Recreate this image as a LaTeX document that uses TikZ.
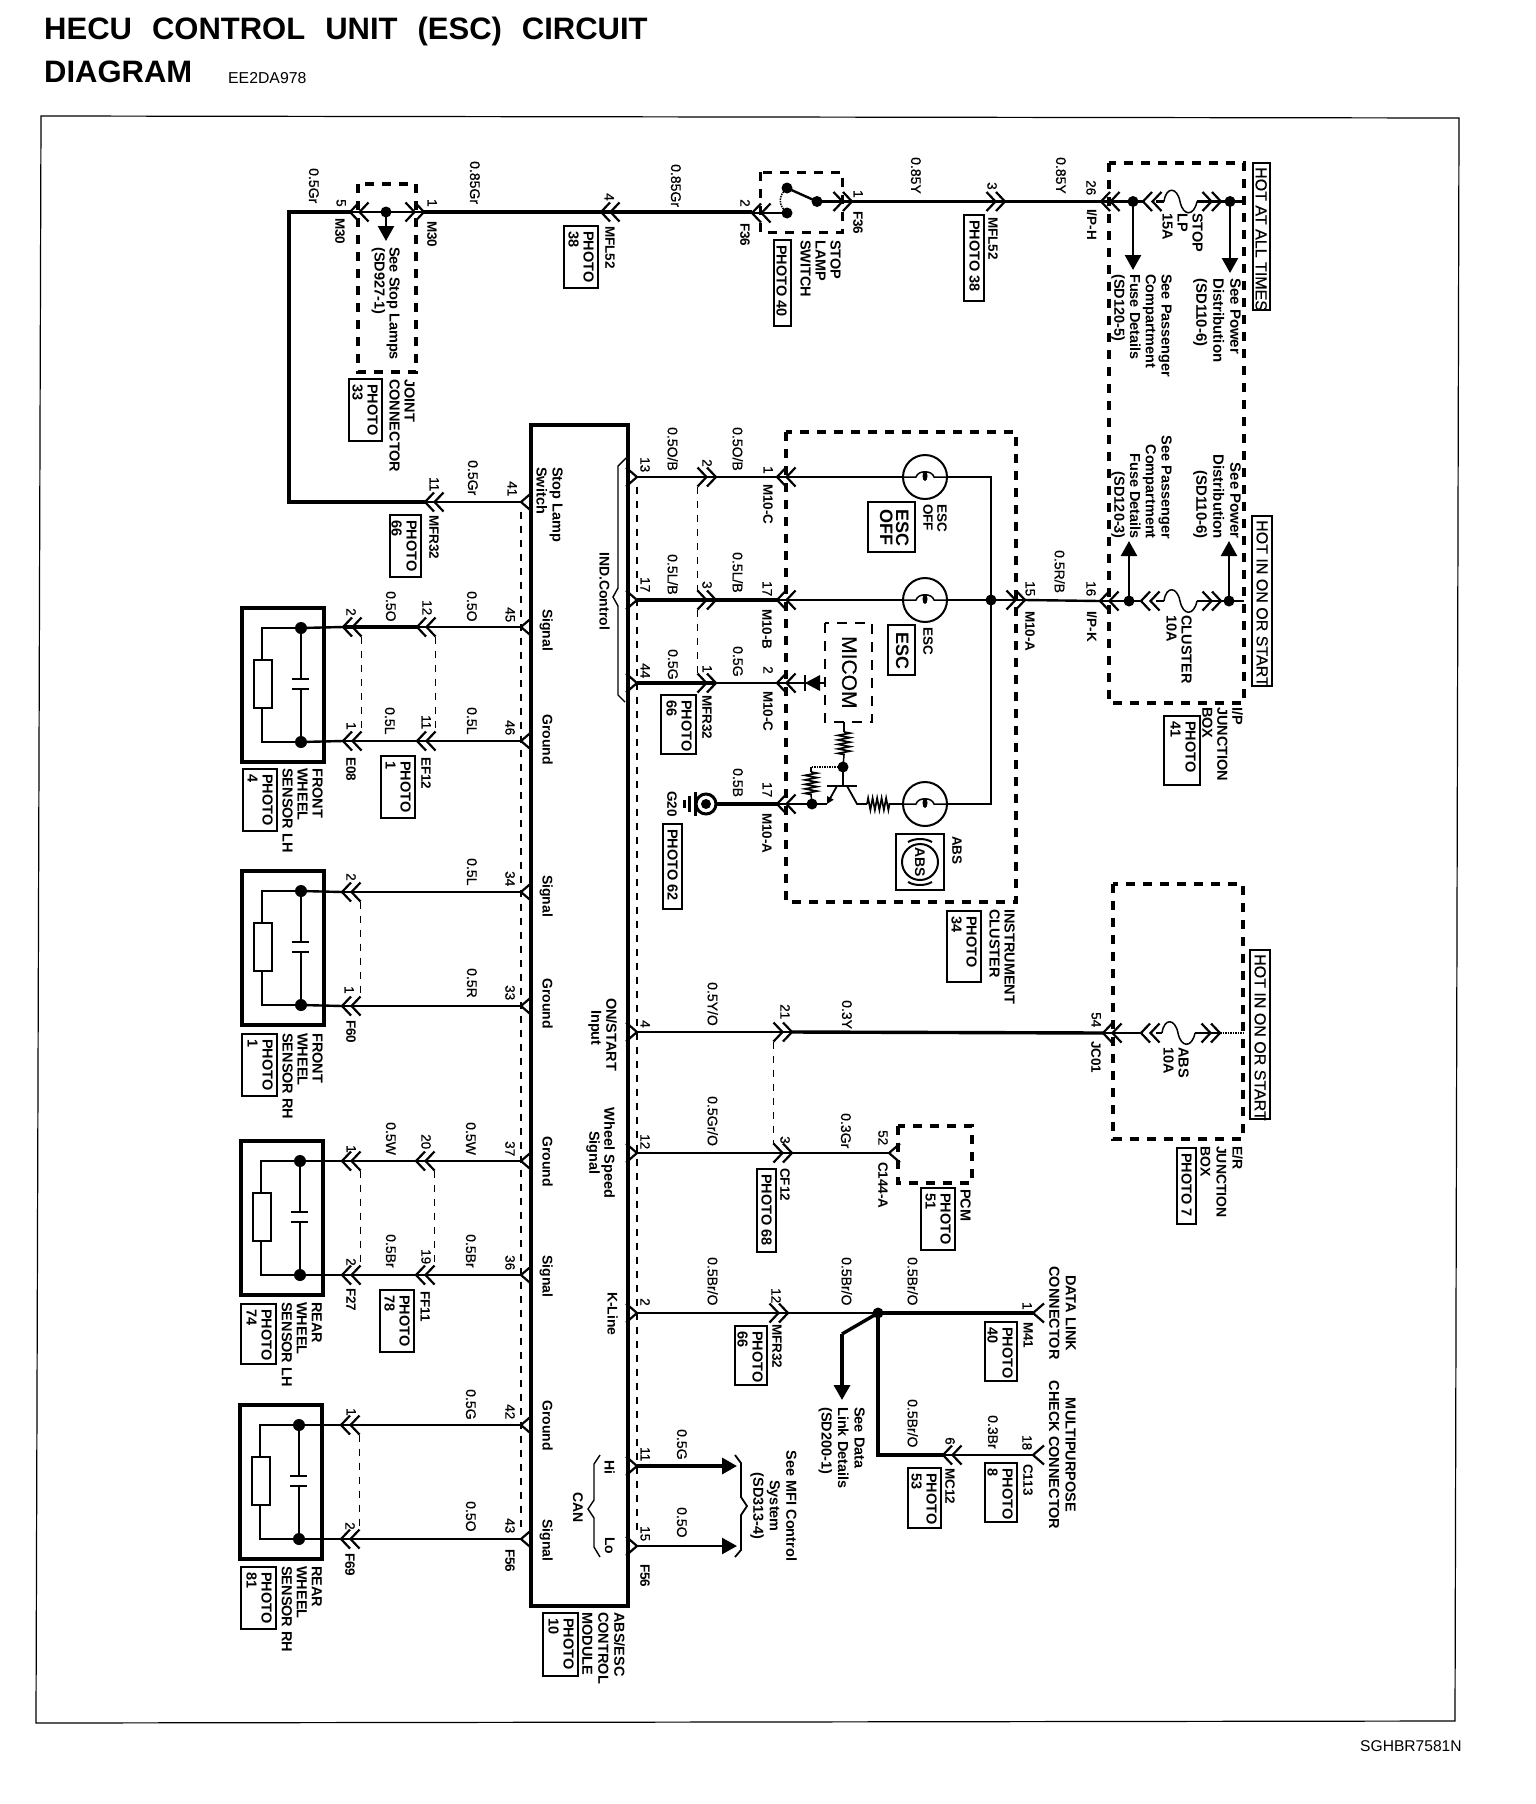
\documentclass[tikz,border=0pt]{standalone}
\usepackage{fontspec}
\setmainfont{Liberation Sans}
\newfontfamily\scanfont[FakeBold=0.5]{Liberation Sans}
\usetikzlibrary{arrows.meta,decorations.pathmorphing}
\newcount\labn
\tikzset{
  lab/.style={rotate=-90,inner sep=0pt,anchor=north west,align=left},
  labr/.style={rotate=-90,inner sep=0pt,anchor=north east,align=right},
  labc/.style={rotate=-90,inner sep=0pt,anchor=north,align=center},
  wl/.style={font=\fontsize{14}{16}\selectfont\scanfont},
  pn/.style={font=\fontsize{13.5}{15}\selectfont\scanfont},
  cn/.style={font=\fontsize{13.5}{15}\selectfont\bfseries},
  bl/.style={font=\fontsize{14.5}{15}\selectfont\bfseries},
  sl/.style={font=\fontsize{14}{16}\selectfont\bfseries},
  nt/.style={font=\fontsize{14.5}{16}\selectfont\bfseries},
  big/.style={font=\fontsize{18}{16}\selectfont\bfseries},
  hot/.style={font=\fontsize{16}{18}\selectfont\scanfont},
  wire/.style={line width=2.4pt},
  thin wire/.style={line width=1.5pt},
  thick wire/.style={line width=3.4pt},
  heavy wire/.style={line width=4.2pt},
  chevline/.style={line width=2.2pt,line join=miter},
  dlink/.style={line width=1.5pt,dash pattern=on 7pt off 7pt},
  hlink/.style={line width=1.9pt,dash pattern=on 7pt off 7pt},
  dbox/.style={line width=3.4pt,dash pattern=on 9pt off 8pt},
  pbox/.style={line width=1.7pt},
  modbox/.style={line width=3.8pt},
  frame/.style={line width=1.2pt},
  tip/.style={-{Triangle[length=15pt,width=16pt]}},
  brace/.style={line width=1.4pt},
  res/.style={line width=1.7pt,decorate,decoration={zigzag,segment length=4.5pt,amplitude=6pt}},
}
\newcommand\lb[4][wl]{\global\advance\labn by 1\relax\node[lab,#1] (t\the\labn) at (#2,#3) {#4};}
\newcommand\lr[4][nt]{\global\advance\labn by 1\relax\node[labr,#1] (t\the\labn) at (#2,#3) {#4};}
\newcommand\lc[4][nt]{\global\advance\labn by 1\relax\node[labc,#1] (t\the\labn) at (#2,#3) {#4};}
\newcommand\sch[4]{\coordinate (#1) at (#2,#3);\draw[chevline] (#1) ++(#4*11,-9.5) -- (#1) -- ++(#4*11,9.5);}
\newcommand\dc[4]{\coordinate (#1) at (#2,#3);\draw[chevline] (#1) ++(#4*9,-9.5) -- (#1) -- ++(#4*9,9.5);\draw[chevline] (#1) ++(#4*18.5,-9.5) -- ++(#4*-9,9.5) -- ++(#4*9,9.5);}
\newcommand\dl[3]{\draw[dlink] ([xshift=#3*18.5pt,yshift=-9.5pt]#1) -- ([xshift=#3*18.5pt,yshift=9.5pt]#2);}
\newcommand\jdot[3]{\coordinate (#1) at (#2,#3);\fill (#1) circle[radius=5.5];}
\newcommand\photo[5]{\draw[pbox] (#1,#2) rectangle (#3,#4);\lb[bl]{#3-4}{#2+5}{#5}}
\newcommand\fuse[3]{\draw[thin wire,shift={(#1,#2)}] (0,0) .. controls (2,-15) and (13,-15) .. (16,0) .. controls (19,15) and (30,15) .. (#3,0);}
\newcommand\sensor[3]{\begin{scope}[shift={(#2,#3)}]
  \draw[line width=3.8pt] (0,0) rectangle (82,154);
  \coordinate (#1t) at (59,20);\coordinate (#1b) at (59,134);
  \draw[line width=1.9pt] (#1t) -- (20,20) -- (20,52);
  \draw[line width=1.9pt] (12,52) rectangle (30,100);
  \draw[line width=1.9pt] (20,100) -- (20,134) -- (#1b);
  \draw[line width=1.9pt] (#1t) -- (59,71) (50,71) -- (67,71) (50,81) -- (67,81) (59,81) -- (#1b);
  \fill (#1t) circle[radius=6];\fill (#1b) circle[radius=6];
\end{scope}}
\newcommand\lamp[3]{\coordinate (#1l) at (#2-22,#3);\coordinate (#1r) at (#2+22,#3);
  \draw[line width=2pt] (#2,#3) circle[radius=22];
  \draw[line width=1.5pt] (#1l) -- (#2-9,#3) .. controls (#2-7,#3-7) and (#2+7,#3-7) .. (#2+9,#3) -- (#1r);
  \fill (#2,#3-1) ellipse[x radius=2.5,y radius=5];}
\begin{document}
\begin{tikzpicture}[x=1pt,y=-1pt]
\useasboundingbox (0,0) rectangle (1536,1804);
\fill[white] (0,0) rectangle (1536,1804);
% title
\node[anchor=base west,inner sep=0pt,font=\fontsize{31}{34}\selectfont\bfseries] (title1) at (44,39) {HECU\hspace{20pt}CONTROL\hspace{20pt}UNIT\hspace{20pt}(ESC)\hspace{20pt}CIRCUIT};
\node[anchor=base west,inner sep=0pt,font=\fontsize{31}{34}\selectfont\bfseries] (title2) at (44,82) {DIAGRAM};
\node[anchor=base west,inner sep=0pt,font=\fontsize{15.8}{18}\selectfont] (code) at (228,83) {EE2DA978};
\node[anchor=base west,inner sep=0pt,font=\fontsize{15.6}{18}\selectfont] (foot) at (1360,1751) {SGHBR7581N};
% frame
\coordinate (fa) at (41,116);\coordinate (fb) at (1459,118);\coordinate (fc) at (1455,1721);\coordinate (fd) at (36,1723);
\draw[frame] (fa) -- (fb) -- (fc) -- (fd) -- cycle;
% module
\draw[modbox] (531,425) rectangle (628,1606);
% pins on module
\sch{p41}{521}{502}{1}\sch{p45}{521}{627}{1}\sch{p46}{521}{741}{1}\sch{p34}{521}{892}{1}\sch{p33}{521}{1006}{1}
\sch{p37}{521}{1161}{1}\sch{p36}{521}{1275}{1}\sch{p42}{521}{1425}{1}\sch{p43}{521}{1539}{1}
\sch{p13}{637}{477}{-1}\sch{p17}{637}{600}{-1}\sch{p44}{637}{683}{-1}\sch{p4}{637}{1032}{-1}\sch{p12}{637}{1153}{-1}
\sch{p2}{637}{1313}{-1}\sch{p11}{637}{1466}{-1}\sch{p15}{637}{1546}{-1}
\draw[hlink] ([yshift=-9.5pt]p41) -- ([yshift=9.5pt]p43);
\draw[hlink] ([yshift=-9.5pt]p13) -- ([yshift=9.5pt]p15);
% top row
\dc{m30a}{350}{212}{1}\dc{m30b}{424}{212}{-1}\dc{mfla}{601}{212}{1}\dc{f36a}{752}{213}{1}\dc{f36b}{852}{201.5}{-1}
\dc{mflb}{1005}{201.5}{-1}\dc{iph}{1101}{201.5}{1}\dc{ipha}{1143}{201.5}{1}\dc{iphb}{1221}{201.5}{-1}
\dc{mfr11}{425}{502}{1}
\coordinate (bendT) at (289,212);\coordinate (bendB) at (289,502);
\draw[heavy wire,line join=miter] (m30a) -- (bendT) -- (bendB) -- (mfr11);
\draw[wire] (mfr11) -- (p41);
\jdot{jc}{386}{212}
\coordinate (jcend) at (386,241);
\draw[thin wire] (m30a) -- (m30b);
\draw[wire,tip] (jc) -- (jcend);
\draw[thick wire] (m30b) -- (f36a |- m30b);
\coordinate (dboxA) at (358,184);\coordinate (dboxB) at (416,372);
\draw[dbox] (dboxA) rectangle (dboxB);
% switch
\draw[dbox,line width=3pt] (760,172) rectangle (842,232);
\jdot{swa}{787}{188}\jdot{swb}{817}{201.5}\jdot{swc}{787}{213}
\draw[wire] (swa) -- (swb);
\draw[thin wire,densely dotted] (swa) .. controls (778,196) and (778,205) .. (swc);
\draw[wire] (f36a) -- (swc);
\draw[thick wire] (swb) -- (f36b);
\draw[thick wire] (f36b) -- (mflb);
\draw[thick wire] (mflb) -- (iph);
% hot box
\draw[dbox] (1109,163) rectangle (1244,703);
\jdot{ha}{1133}{201.5}\jdot{hb}{1230}{201.5}
\coordinate (hbE) at (1244,201.5);
\draw[wire] (iph) -- (ipha);\draw[wire] (1156,201.5) -- (1164,201.5);
\fuse{1164}{201.5}{33}
\draw[wire] (1197,201.5) -- (iphb);\draw[wire] (iphb) -- (hbE);
\coordinate (haE) at (1133,270);\coordinate (hbT) at (1230,273);
\draw[wire,tip] (ha) -- (haE);\draw[wire,tip] (hb) -- (hbT);
\dc{ipk}{1100}{601}{1}\dc{ipka}{1141}{601}{1}\dc{ipkb}{1221}{601}{-1}
\jdot{hc}{1129}{601}\jdot{hd}{1229}{601}
\coordinate (hdE) at (1244,601);
\draw[wire] (ipk) -- (ipka);\draw[wire] (1156,601) -- (1164,601);
\fuse{1164}{601}{33}
\draw[wire] (1197,601) -- (ipkb);\draw[wire] (ipkb) -- (hdE);
\coordinate (hcT) at (1129,541);\coordinate (hdT) at (1229,541);
\draw[wire,tip] (hc) -- (hcT);\draw[wire,tip] (hd) -- (hdT);
% hot labels
\draw[pbox] (1253,163) rectangle (1270,310);\lb[hot]{1267}{167}{HOT AT ALL TIMES}
\draw[pbox] (1252,516) rectangle (1272,686);\lb[hot]{1268}{520}{HOT IN ON OR START}
\draw[pbox] (1250,950) rectangle (1270,1119);\lb[hot]{1266}{954}{HOT IN ON OR START}
\lb[nt,font=\fontsize{15}{17}\selectfont\bfseries]{1241}{278}{See Power\\Distribution\\(SD110-6)}
\lb[nt,font=\fontsize{14.5}{15.8}\selectfont\bfseries]{1172}{274}{See Passenger\\Compartment\\Fuse Details\\(SD120-5)}
\lr[nt,font=\fontsize{15}{17}\selectfont\bfseries]{1241}{539}{See Power\\Distribution\\(SD110-6)}
\lr[nt,font=\fontsize{14.5}{15.8}\selectfont\bfseries]{1172}{539}{See Passenger\\Compartment\\Fuse Details\\(SD120-3)}
\lb[bl]{1203}{213}{STOP\\LP\\15A}
\lb[bl]{1192}{615}{CLUSTER\\10A}
\lb[cn]{1097}{209}{I/P-H}\lb[cn]{1097}{611}{I/P-K}
\lb[pn]{1096}{180}{26}\lb[pn]{1096}{581}{16}
\lb{1066}{157}{0.85Y}\lb{921}{157}{0.85Y}
\lb[pn]{997}{182}{3}\lb[cn]{998}{217}{MFL52}
\photo{964}{215}{984}{301}{PHOTO 38}
\lb[pn]{863}{190}{1}\lb[cn]{863}{211}{F36}
\lb[bl]{841}{240}{STOP\\LAMP\\SWITCH}
\photo{774}{240}{791}{326}{PHOTO 40}
% left-top labels
\lb{319}{168}{0.5Gr}\lb[pn]{346}{199}{5}\lb[cn]{345}{218}{M30}
\lb[pn]{437}{199}{1}\lb[cn]{437}{221}{M30}
\lb{480}{161}{0.85Gr}\lb[pn]{614}{193}{4}\lb[cn]{615}{226}{MFL52}
\photo{564}{226}{598}{288}{PHOTO\\38}
\lb{681}{164}{0.85Gr}\lb[pn]{750}{199}{2}\lb[cn]{750}{223}{F36}
\lb[nt,font=\fontsize{14.5}{15}\selectfont\bfseries]{400}{247}{See Stop Lamps\\(SD927-1)}
\lb[bl]{415}{379}{JOINT\\CONNECTOR}
\photo{349}{379}{382}{441}{PHOTO\\33}
\lb[pn]{439}{477}{11}\lb[cn]{439}{515}{MFR32}\lb{478}{460}{0.5Gr}\lb[pn]{517}{481}{41}
\photo{390}{515}{421}{577}{PHOTO\\66}
\lb[nt]{563}{467}{Stop Lamp\\Switch}
\lb[sl]{610}{552}{IND.Control}
\draw[brace] (626,458) -- (618,466) -- (618,588) -- (613,597) -- (618,606) -- (618,695) -- (625,702);
% module labels left
\lb[sl]{553}{609}{Signal}\lb[sl]{553}{714}{Ground}\lb[sl]{553}{875}{Signal}\lb[sl]{553}{978}{Ground}
\lb[sl]{553}{1136}{Ground}\lb[sl]{553}{1255}{Signal}\lb[sl]{553}{1400}{Ground}\lb[sl]{553}{1519}{Signal}
\lb[sl,font=\fontsize{14.5}{15}\selectfont\bfseries]{617}{998}{ON/START\\\hspace*{12pt}Input}
\lc[sl,font=\fontsize{14.5}{15}\selectfont\bfseries]{615}{1153}{Wheel Speed\\Signal}
\lb[sl]{618}{1292}{K-Line}\lb[sl]{615}{1460}{Hi}\lb[sl]{615}{1537}{Lo}\lb[sl]{583}{1492}{CAN}
\draw[brace] (600,1455) -- (594,1464) -- (594,1500) -- (588,1509) -- (594,1518) -- (594,1547) -- (600,1557);
\lb[bl,font=\fontsize{14.5}{16}\selectfont\bfseries]{625}{1612}{ABS/ESC\\CONTROL\\MODULE}
\photo{543}{1613}{578}{1676}{PHOTO\\10}
% sensors
\sensor{sa}{242}{608}\sensor{sb}{242}{871}\sensor{sc}{241}{1141}\sensor{sd}{240}{1405}
% sensor A
\dc{a2}{343}{627}{1}\dc{a12}{417}{627}{1}\dc{a1}{343}{741}{1}\dc{a11}{417}{741}{1}
\draw[wire] (sat) -- (a2);\draw[thick wire] (a2) -- (a12);\draw[wire] (a12) -- (p45);
\draw[wire] (sab) -- (a1);\draw[wire] (a1) -- (a11);\draw[wire] (a11) -- (p46);
\dl{a2}{a1}{1}\dl{a12}{a11}{1}
\lb[pn]{356}{608}{2}\lb[pn]{432}{600}{12}\lb{396}{591}{0.5O}\lb{477}{591}{0.5O}\lb[pn]{515}{607}{45}
\lb[pn]{356}{722}{1}\lb[pn]{431}{715}{11}\lb{395}{707}{0.5L}\lb{477}{707}{0.5L}\lb[pn]{515}{720}{46}
\lb[cn]{356}{757}{E08}\lb[cn]{431}{757}{EF12}
\photo{381}{756}{415}{818}{PHOTO\\1}
\lb[bl]{323}{768}{FRONT\\WHEEL\\SENSOR LH}
\photo{243}{769}{277}{831}{PHOTO\\4}
% sensor B
\dc{b2}{342}{892}{1}\dc{b1}{342}{1006}{1}
\draw[wire] (sbt) -- (b2);\draw[wire] (b2) -- (p34);
\draw[wire] (sbb) -- (b1);\draw[wire] (b1) -- (p33);
\dl{b2}{b1}{1}
\lb[pn]{356}{873}{2}\lb{477}{858}{0.5L}\lb[pn]{515}{871}{34}
\lb[pn]{354}{986}{1}\lb{477}{968}{0.5R}\lb[pn]{515}{985}{33}
\lb[cn]{356}{1020}{F60}
\lb[bl]{323}{1033}{FRONT\\WHEEL\\SENSOR RH}
\photo{242}{1034}{277}{1096}{PHOTO\\1}
% sensor C
\dc{c1}{342}{1161}{1}\dc{c20}{416}{1161}{1}\dc{c2}{342}{1275}{1}\dc{c19}{416}{1275}{1}
\draw[wire] (sct) -- (c1);\draw[wire] (c1) -- (c20);\draw[wire] (c20) -- (p37);
\draw[wire] (scb) -- (c2);\draw[wire] (c2) -- (c19);\draw[wire] (c19) -- (p36);
\dl{c1}{c2}{1}\dl{c20}{c19}{1}
\lb[pn]{356}{1145}{1}\lb[pn]{431}{1134}{20}\lb{396}{1122}{0.5W}\lb{476}{1122}{0.5W}\lb[pn]{515}{1141}{37}
\lb[pn]{356}{1258}{2}\lb[pn]{431}{1249}{19}\lb{396}{1234}{0.5Br}\lb{476}{1234}{0.5Br}\lb[pn]{515}{1255}{36}
\lb[cn]{356}{1288}{F27}\lb[cn]{430}{1291}{FF11}
\photo{380}{1290}{414}{1352}{PHOTO\\78}
\lb[bl]{322}{1302}{REAR\\WHEEL\\SENSOR LH}
\photo{241}{1304}{276}{1364}{PHOTO\\74}
% sensor D
\dc{d1}{341}{1425}{1}\dc{d2}{341}{1539}{1}
\draw[wire] (sdt) -- (d1);\draw[wire] (d1) -- (p42);
\draw[wire] (sdb) -- (d2);\draw[wire] (d2) -- (p43);
\dl{d1}{d2}{1}
\lb[pn]{356}{1408}{1}\lb{476}{1389}{0.5G}\lb[pn]{515}{1404}{42}
\lb[pn]{355}{1522}{2}\lb{476}{1501}{0.5O}\lb[pn]{515}{1518}{43}
\lb[cn]{355}{1553}{F69}\lb[cn]{515}{1549}{F56}
\lb[bl]{322}{1566}{REAR\\WHEEL\\SENSOR RH}
\photo{241}{1567}{276}{1629}{PHOTO\\81}
% cluster
\draw[dbox] (786,432) rectangle (1016,902);
\dc{mb2}{716}{477}{-1}\dc{mc1}{777}{477}{1}\lamp{la}{925}{477}
\dc{mb3}{716}{600}{-1}\dc{mcb}{777}{600}{1}\lamp{lb}{925}{600}
\dc{mfr1}{716}{683}{-1}\dc{mc2}{777}{683}{1}
\dc{mca}{777}{804}{1}\lamp{lc}{925}{804}
\coordinate (busT) at (991,477);\coordinate (busB) at (991,804);
\jdot{bus}{991}{600}
\dc{m15}{1025}{600}{-1}
\draw[wire] (p13) -- (mb2);\draw[wire] (mb2) -- (mc1);\draw[wire] (mc1) -- (lal);
\draw[thick wire] (p17) -- (mb3);\draw[thick wire] (mb3) -- (mcb);\draw[wire] (mcb) -- (lbl);
\draw[thick wire] (p44) -- (mfr1);\draw[wire] (mfr1) -- (mc2);
\draw[wire] (lar) -- (busT) -- (bus);\draw[wire] (bus) -- (busB) -- (lcr);
\draw[wire] (lbr) -- (bus);\draw[wire] (bus) -- (m15);\draw[wire] (m15) -- (ipk);
\dl{mb2}{mb3}{-1}\dl{mb3}{mfr1}{-1}
% ground
\coordinate (gc) at (706,804);
\draw[line width=3pt] (gc) circle[radius=10];\fill (gc) circle[radius=5];
\draw[thick wire] (mca) -- (716,804);
\draw[line width=3pt] (696,804) -- (695,804);
\draw[line width=3pt] (695,792) -- (695,816) (689,796) -- (689,812) (684,800) -- (684,808);
% micom
\draw[line width=2.2pt,dash pattern=on 10pt off 8pt] (825,623) rectangle (872,722);
\lb[font=\fontsize{21}{22}\selectfont\scanfont]{857}{636}{MICOM}
\coordinate (mdl) at (825,683);
\draw[thin wire] (mc2) -- (mdl);
\fill (805,683) -- (820,675) -- (820,691) -- cycle;
\draw[line width=2pt] (805,675) -- (805,691);
% transistor
\coordinate (mbot) at (844,722);\coordinate (ra) at (844,732);\coordinate (rb) at (844,755);
\jdot{tj}{843}{767}\coordinate (tb) at (843,786);
\draw[thin wire] (mbot) -- (ra);\draw[res] (ra) -- (rb);\draw[thin wire] (rb) -- (tj);
\draw[wire] (tj) -- (tb);\draw[wire] (827,786) -- (857,786);
\jdot{tl}{812}{804}
\coordinate (ta) at (811,767);\coordinate (rc) at (811,772);\coordinate (rd) at (811,795);
\draw[thin wire,densely dotted] (tj) -- (ta);\draw[thin wire] (ta) -- (rc);\draw[res] (rc) -- (rd);\draw[thin wire] (rd) -- (tl);
\draw[wire] (mca) -- (tl);\draw[wire] (tl) -- (827,804);
\draw[line width=1.8pt,-{Triangle[length=7pt,width=7pt]}] (837,786) -- (827,804);
\coordinate (te) at (857,804);\coordinate (re) at (867,804);\coordinate (rf) at (890,804);
\draw[line width=1.8pt] (847,786) -- (te) -- (re);\draw[res] (re) -- (rf);\draw[thin wire] (rf) -- (lcl);
% cluster labels
\lb{678}{427}{0.5O/B}\lb{743}{427}{0.5O/B}\lb[pn]{650}{457}{13}\lb[pn]{712}{459}{2}\lb[pn]{773}{466}{1}\lb[cn]{773}{484}{M10-C}
\lb[cn,font=\fontsize{13.5}{14}\selectfont\bfseries]{947}{504}{ESC\\OFF}
\draw[line width=2.6pt] (868,502) rectangle (915,552);\lb[big]{909}{509}{ESC\\OFF}
\lb[cn]{933}{627}{ESC}
\draw[line width=2.6pt] (888,625) rectangle (915,675);\lb[big]{909}{632}{ESC}
\lb{678}{554}{0.5L/B}\lb{743}{552}{0.5L/B}\lb[pn]{650}{577}{17}\lb[pn]{712}{581}{3}\lb[pn]{772}{581}{17}\lb[cn]{772}{609}{M10-B}
\lb{678}{649}{0.5G}\lb{743}{646}{0.5G}\lb[pn]{650}{663}{44}\lb[pn]{712}{665}{1}\lb[pn]{773}{666}{2}\lb[cn]{773}{691}{M10-C}\lb[cn]{712}{695}{MFR32}
\photo{661}{695}{696}{754}{PHOTO\\66}
\lb[cn]{677}{791}{G20}
\photo{663}{824}{682}{909}{PHOTO 62}
\lb{743}{768}{0.5B}\lb[pn]{772}{782}{17}\lb[cn]{772}{813}{M10-A}
\lb[bl]{1015}{909}{INSTRUMENT\\CLUSTER}
\photo{947}{911}{981}{982}{PHOTO\\34}
\lb[cn]{962}{836}{ABS}
\draw[line width=2.8pt] (896,834) rectangle (944,890);
\draw[line width=2pt] (920,862) circle[radius=18];
\node[rotate=-90,inner sep=0pt,font=\fontsize{14}{15}\selectfont\bfseries] (absin) at (920,862) {ABS};
\draw[line width=2pt] (908,842) .. controls (915,838) and (925,838) .. (932,842);
\draw[line width=2pt] (908,882) .. controls (915,886) and (925,886) .. (932,882);
\lb{1065}{550}{0.5R/B}\lb[pn]{1035}{581}{15}\lb[cn]{1035}{611}{M10-A}
\lb[bl]{1243}{707}{I/P\\JUNCTION\\BOX}
\photo{1164}{716}{1200}{785}{PHOTO\\41}
% row 4
\dc{r21}{792}{1032}{-1}\dc{jc01}{1103}{1033}{1}\dc{era}{1141}{1033}{1}\dc{erb}{1220}{1033}{-1}
\coordinate (erE) at (1243,1033);
\draw[wire] (p4) -- (r21);\draw[thick wire] (r21) -- (jc01);
\draw[dbox] (1113,884) rectangle (1243,1139);
\draw[thin wire] (jc01) -- (era);\draw[thin wire] (1156,1033) -- (1162,1033);
\fuse{1162}{1033}{33}
\draw[thin wire] (1195,1033) -- (erb);\draw[thin wire,densely dotted] (erb) -- (erE);
\lb{718}{982}{0.5Y/O}\lb{852}{1000}{0.3Y}\lb[pn]{790}{1004}{21}\lb[pn]{1101}{1012}{54}\lb[cn]{1101}{1041}{JC01}\lb[pn]{650}{1020}{4}
\lb[bl]{1189}{1047}{ABS\\10A}
\lb[bl,font=\fontsize{14}{16}\selectfont\bfseries]{1243}{1146}{E/R\\JUNCTION\\BOX}
\photo{1177}{1148}{1196}{1224}{PHOTO 7}
% row 12
\dc{cf12}{792}{1153}{-1}\sch{c52}{889}{1153}{1}
\draw[wire] (p12) -- (cf12);\draw[wire] (cf12) -- (c52);
\dl{r21}{cf12}{-1}
\draw[dbox] (898,1126) rectangle (972,1183);
\lb{718}{1096}{0.5Gr/O}\lb[pn]{650}{1134}{12}\lb[pn]{790}{1136}{3}\lb[cn]{790}{1168}{CF12}
\photo{757}{1169}{776}{1252}{PHOTO 68}
\lb{851}{1113}{0.3Gr}\lb[pn]{888}{1130}{52}\lb[cn]{888}{1162}{C144-A}
\lb[bl]{971}{1189}{PCM}
\photo{921}{1188}{955}{1250}{PHOTO\\51}
% row 2
\dc{mfr12}{788}{1313}{-1}\sch{m41}{1033}{1313}{1}\dc{mc6}{943}{1455}{1}\sch{c18}{1033}{1455}{1}
\jdot{kj}{878}{1313}
\coordinate (kb) at (878,1455);\coordinate (kd) at (842,1334);\coordinate (ke) at (842,1400);
\draw[wire] (p2) -- (mfr12);\draw[wire] (mfr12) -- (kj);\draw[thick wire] (kj) -- (m41);
\draw[heavy wire,line join=miter] (kj) -- (kb) -- (mc6);
\draw[wire] (mc6) -- (c18);
\draw[thick wire] (kj) -- (kd);\draw[thick wire,tip] (kd) -- (ke);
\lb{718}{1257}{0.5Br/O}\lb[pn]{650}{1298}{2}\lb[pn]{781}{1288}{12}\lb[cn]{782}{1324}{MFR32}
\photo{735}{1326}{767}{1385}{PHOTO\\66}
\lb{852}{1257}{0.5Br/O}\lb{918}{1257}{0.5Br/O}
\lb[pn]{1032}{1302}{1}\lb[cn]{1033}{1322}{M41}
\photo{985}{1322}{1017}{1381}{PHOTO\\40}
\lc[bl,font=\fontsize{14.5}{16.5}\selectfont\bfseries]{1076}{1313}{DATA LINK\\CONNECTOR}
\lc[bl,font=\fontsize{14.5}{16.5}\selectfont\bfseries]{1076}{1455}{MULTIPURPOSE\\CHECK CONNECTOR}
\lb[nt,font=\fontsize{14.5}{16.5}\selectfont\bfseries]{865}{1407}{See Data\\Link Details\\(SD200-1)}
\lb{918}{1399}{0.5Br/O}\lb[pn]{955}{1437}{6}\lb[cn]{955}{1468}{MC12}
\photo{908}{1468}{941}{1528}{PHOTO\\53}
\lb{998}{1415}{0.3Br}\lb[pn]{1032}{1435}{18}\lb[cn]{1033}{1464}{C113}
\photo{985}{1463}{1017}{1522}{PHOTO\\8}
% MFI
\coordinate (mfa) at (737,1466);\coordinate (mfb) at (737,1546);
\draw[thick wire,tip] (p11) -- (mfa);\draw[wire,tip] (p15) -- (mfb);
\draw[brace,line width=1.8pt] (735,1455) -- (741,1463) -- (741,1497) -- (747,1506) -- (741,1515) -- (741,1550) -- (735,1557);
\lb{687}{1429}{0.5G}\lb[pn]{650}{1447}{11}\lb{687}{1507}{0.5O}\lb[pn]{650}{1526}{15}\lb[cn]{650}{1564}{F56}
\lc[nt,font=\fontsize{14.5}{16.5}\selectfont\bfseries]{797}{1506}{See MFI Control\\System\\(SD313-4)}
\end{tikzpicture}
\end{document}
